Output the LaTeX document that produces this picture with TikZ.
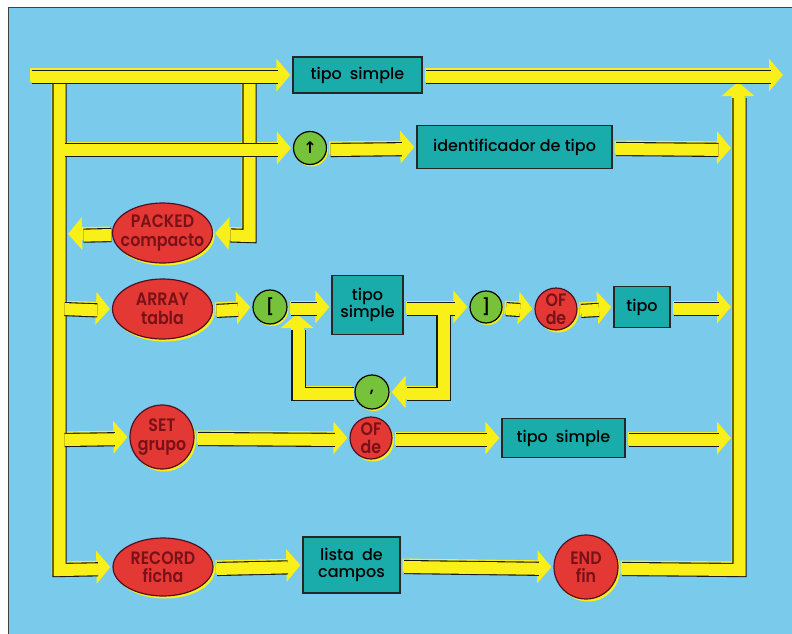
\documentclass[tikz,border=0pt]{standalone}
\usepackage{fontspec}
\setmainfont{Poppins}[UprightFont=* Medium,BoldFont=* SemiBold]
\newfontfamily\redfam{Poppins}[UprightFont=* SemiBold,FakeStretch=0.88]
\newfontfamily\symfont{DejaVu Sans}
\usetikzlibrary{arrows.meta,shapes.geometric}
\definecolor{bgblue}{RGB}{122,202,236}
\definecolor{band}{RGB}{250,240,25}
\definecolor{tealbox}{RGB}{26,172,170}
\definecolor{redfill}{RGB}{228,56,52}
\definecolor{redtext}{RGB}{120,18,24}
\definecolor{reddraw}{RGB}{80,15,35}
\definecolor{greenfill}{RGB}{118,194,58}
\pgfdeclarelayer{back}
\pgfdeclarelayer{bands}
\pgfsetlayers{back,bands,main}
\newcommand\boxfont{\fontsize{16}{17.5}\selectfont}
\newcommand\redfont{\redfam\fontsize{18}{18.5}\selectfont}
\newcommand\bandpaths[1]{%
  \draw[#1] (s) -- (ts1.west);
  \draw[#1] (ts1.east) -- (e1);
  \draw[#1] (endn.east) -- (rv1) -- (rv2);
  \draw[#1] (tk1) -- (tk5) -- (record.west);
  \draw[#1] (pk1) -- (pk2) -- (packed.east);
  \draw[#1] (packed.west) -- (pkend);
  \draw[#1] (tk2) -- (up.west);
  \draw[#1] (up.east) -- (idt.west);
  \draw[#1] (idt.east) -- (r2);
  \draw[#1] (tk3) -- (array.west);
  \draw[#1] (array.east) -- (lb.west);
  \draw[#1] (lb.east) -- (ts2.west |- lb);
  \draw[#1] (ts2.east |- lb) -- (rb.west);
  \draw[#1] (lp1) -- (lp2) -- (comma.east);
  \draw[#1] (comma.west) -- (lp3) -- (lp4);
  \draw[#1] (rb.east) -- (of1.west);
  \draw[#1] (of1.east) -- (tipo.west);
  \draw[#1] (tipo.east) -- (r3);
  \draw[#1] (tk4) -- (set.west);
  \draw[#1] (set.east) -- (of2.west);
  \draw[#1] (of2.east) -- (ts3.west);
  \draw[#1] (ts3.east) -- (r4);
  \draw[#1] (record.east) -- (lista.west);
  \draw[#1] (lista.east) -- (endn.west);
}
\begin{document}
\begin{tikzpicture}[x=1pt,y=-1pt,line join=miter,
  tbox/.style={rectangle,draw=black!85,line width=1.3pt,fill=tealbox,inner sep=0pt,align=center,font=\boxfont},
  rshape/.style={draw=reddraw,line width=1.2pt,fill=redfill,text=redtext,inner sep=-7pt,align=center,font=\redfont,
    preaction={fill=band,transform canvas={xshift=2pt,yshift=-2.5pt}}},
  rell/.style={rshape,ellipse,minimum width=100pt,minimum height=60pt},
  rcirc/.style={rshape,circle},
  gcirc/.style={circle,draw=black,line width=1.2pt,fill=greenfill,inner sep=0pt,minimum size=33pt,font=\boxfont\bfseries,
    preaction={fill=band,transform canvas={xshift=1.5pt,yshift=-2pt}}},
  bandA/.style={draw=band,line width=13pt,shorten <=2pt,shorten >=2pt,-{Triangle[width=32pt,length=14pt]}},
  bandB/.style={draw=black!90,line width=1.1pt,double=band,double distance=12pt,shorten <=2pt,shorten >=16pt,
    transform canvas={xshift=1.5pt,yshift=-2pt}}]
\useasboundingbox (0,0) rectangle (792,634);
\begin{pgfonlayer}{back}
\fill[white] (0,0) rectangle (792,634);
\fill[bgblue] (8,8) rectangle (792,634);
\draw[black!75,line width=1pt] (8,634) -- (8,8) -- (792,8);
\end{pgfonlayer}
% coordinates
\coordinate (s) at (28,75);
\coordinate (e1) at (785,75);
\coordinate (tk1) at (58,80);
\coordinate (tk2) at (61,148);
\coordinate (tk3) at (61,307);
\coordinate (tk4) at (61,438);
\coordinate (tk5) at (58,568);
\coordinate (pk1) at (248,80);
\coordinate (pk2) at (248,234);
\coordinate (pkend) at (66,234);
\coordinate (r2) at (733,148);
\coordinate (r3) at (733,307);
\coordinate (r4) at (733,438);
\coordinate (rv1) at (738,568);
\coordinate (rv2) at (738,80);
\coordinate (lp1) at (442,311);
\coordinate (lp2) at (442,392);
\coordinate (lp3) at (297,392);
\coordinate (lp4) at (297,312);
% nodes
\node[tbox,minimum width=129pt,minimum height=36pt] (ts1) at (357.5,75) {tipo\hspace{0.5em}simple};
\node[gcirc] (up) at (310,148) {\symfont\bfseries ↑};
\node[tbox,minimum width=195pt,minimum height=43pt] (idt) at (514.5,147) {identificador de tipo};
\node[rell] (packed) at (162.5,233) {PACKED\\compacto};
\node[rell] (array) at (162.5,309) {ARRAY\\tabla};
\node[gcirc,minimum size=34pt] (lb) at (270,307) {[};
\node[tbox,minimum width=71pt,minimum height=59pt] (ts2) at (367.5,305) {tipo\\simple};
\node[gcirc,minimum size=32pt] (rb) at (486,307) {]};
\node[rcirc,minimum size=42pt] (of1) at (556,309) {OF\\de};
\node[tbox,minimum width=56pt,minimum height=41pt] (tipo) at (642,307) {tipo};
\node[gcirc,minimum size=34pt] (comma) at (372,392) {,};
\node[rcirc,minimum size=64pt] (set) at (162,437) {SET\\grupo};
\node[rcirc,minimum size=42pt] (of2) at (371,438) {OF\\de};
\node[tbox,minimum width=123pt,minimum height=39pt] (ts3) at (563.5,438) {tipo\hspace{0.5em}simple};
\node[rell,minimum height=58pt] (record) at (163,567) {RECORD\\ficha};
\node[tbox,minimum width=97pt,minimum height=56pt] (lista) at (351.5,565) {lista\hspace{0.5em}de\\campos};
\node[rcirc,minimum size=64pt] (endn) at (586,567) {END\\fin};
\begin{pgfonlayer}{bands}
\bandpaths{bandA}
\bandpaths{bandB}
\end{pgfonlayer}
\end{tikzpicture}
\end{document}
